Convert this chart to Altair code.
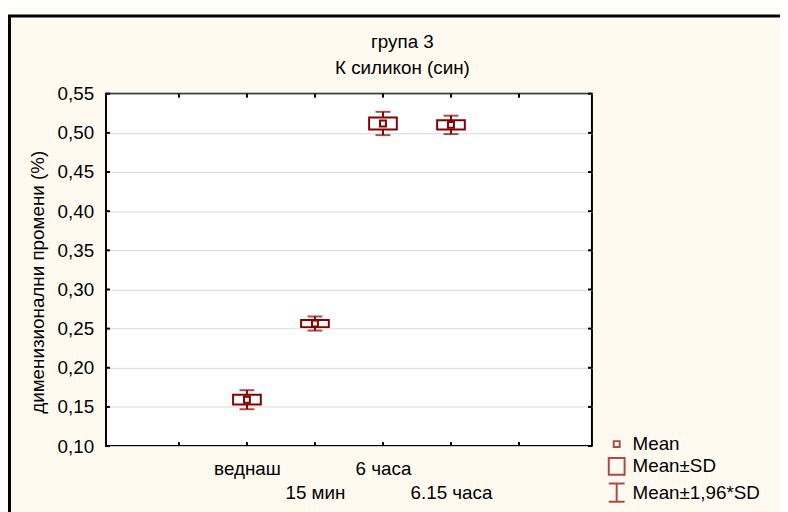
import altair as alt
import pandas as pd

# ---- data ----
categories = ["веднаш", "15 мин", "6 часа", "6.15 часа"]
positions = [2, 3, 4, 5]
means = [0.1592, 0.2565, 0.5120, 0.5102]
sds = [0.0062, 0.0046, 0.0076, 0.0060]
y_ticks = [0.10, 0.15, 0.20, 0.25, 0.30, 0.35, 0.40, 0.45, 0.50, 0.55]
x_ticks = [1, 2, 3, 4, 5, 6]
legend_labels = ["Mean", "Mean±SD", "Mean±1,96*SD"]
title_lines = ["група 3", "К силикон (син)"]
y_title = "дименизионални промени (%)"

W, H = 491, 356
RED = "#850000"
FONT = "Liberation Sans"
FS = 19

df = pd.DataFrame({"cat": categories, "pos": positions, "mean": means, "sd": sds})
yt_df = pd.DataFrame({"v": y_ticks})
xt_df = pd.DataFrame({"v": x_ticks})
leg_df = pd.DataFrame({"item": legend_labels})

xscale = alt.Scale(domain=[0, 7], nice=False, zero=False)
yscale = alt.Scale(domain=[0.10, 0.55], nice=False, zero=False)

x_label_expr = (
    "datum.value == 2 ? 'веднаш' : datum.value == 3 ? ['', '15 мин'] : "
    "datum.value == 4 ? '6 часа' : datum.value == 5 ? ['', '6.15 часа'] : ''"
)
xaxis = alt.Axis(values=x_ticks, ticks=False, domain=False, grid=False,
                 labelExpr=x_label_expr, labelOverlap=False, labelFlush=False,
                 labelPadding=14, labelLineHeight=23.5, labelFont=FONT,
                 labelFontSize=FS, labelColor="black", title=None)
yaxis = alt.Axis(values=y_ticks, ticks=False, domain=False, grid=True,
                 gridColor="#D9D9D9", gridWidth=1,
                 labelExpr="replace(format(datum.value, '.2f'), '.', ',')",
                 labelPadding=12.5, labelFont=FONT, labelFontSize=FS, labelColor="black",
                 title=y_title, titleFont=FONT, titleFontSize=FS, titleFontWeight="normal",
                 titleColor="black", titleAngle=270, titleX=-69, titleY=190,
                 titleAlign="center", titleBaseline="middle")


def X(field):
    return alt.X(field, type="quantitative", scale=xscale, axis=xaxis)


def Y(field):
    return alt.Y(field, type="quantitative", scale=yscale, axis=yaxis)


base = alt.Chart(df).transform_calculate(
    sd_lo="datum.mean - datum.sd",
    sd_hi="datum.mean + datum.sd",
    ci_lo="datum.mean - 1.96 * datum.sd",
    ci_hi="datum.mean + 1.96 * datum.sd",
)

one = alt.Data(values=[{"k": 1}])

strip = alt.Chart(one).mark_rect(fill="white", strokeWidth=0).encode(
    x=alt.value(-99), x2=alt.value(W + 190), y=alt.value(-84), y2=alt.value(-80))
frame = alt.Chart(one).mark_rect(fill="transparent", stroke="black", strokeWidth=3).encode(
    x=alt.value(-97.5), x2=alt.value(W + 200), y=alt.value(-78.5), y2=alt.value(H + 80))

whisk = base.mark_rule(color=RED, strokeWidth=2).encode(
    x=X("pos"), y=Y("ci_lo"), y2="ci_hi")
cap_lo = base.mark_tick(color=RED, orient="horizontal", size=15, thickness=2).encode(
    x=X("pos"), y=Y("ci_lo"))
cap_hi = base.mark_tick(color=RED, orient="horizontal", size=15, thickness=2).encode(
    x=X("pos"), y=Y("ci_hi"))
box = base.mark_bar(size=28, fill="white", stroke=RED, strokeWidth=2).encode(
    x=X("pos"), y=Y("sd_lo"), y2="sd_hi")
mean_pt = base.mark_square(size=36, fill="white", stroke=RED, strokeWidth=2, opacity=1).encode(
    x=X("pos"), y=Y("mean"))

tick_l = alt.Chart(yt_df).mark_rule(color="black", strokeWidth=2).encode(
    y=Y("v"), x=alt.value(0), x2=alt.value(4))
tick_r = alt.Chart(yt_df).mark_rule(color="black", strokeWidth=2).encode(
    y=Y("v"), x=alt.value(W - 4), x2=alt.value(W))
tick_t = alt.Chart(xt_df).mark_rule(color="black", strokeWidth=2).encode(
    x=X("v"), y=alt.value(0), y2=alt.value(4))
tick_b = alt.Chart(xt_df).mark_rule(color="black", strokeWidth=2).encode(
    x=X("v"), y=alt.value(H - 4), y2=alt.value(H))

shape_paths = [
    "M-0.3,-0.3H0.3V0.3H-0.3Z",
    "M-0.8,-0.85H0.8V0.85H-0.8Z",
    "M-0.8,-0.92H0.8M0,-0.92V0.92M-0.8,0.92H0.8",
]
legend_layer = alt.Chart(leg_df).transform_filter("false").mark_point(
    color=RED, filled=False, strokeWidth=2, size=400).encode(
    x=X("pos"), y=Y("mean"),
    shape=alt.Shape("item:N", scale=alt.Scale(domain=legend_labels, range=shape_paths),
                    legend=alt.Legend(orient="none", legendX=505, legendY=343, title=None,
                                      symbolSize=400, symbolStrokeWidth=2,
                                      symbolStrokeColor=RED, symbolFillColor="transparent",
                                      labelFont=FONT, labelFontSize=FS, labelColor="black",
                                      labelOffset=5, rowPadding=-0.5, padding=0)))

chart = alt.layer(
    strip, frame, whisk, cap_lo, cap_hi, box, mean_pt,
    tick_l, tick_r, tick_t, tick_b, legend_layer
).properties(
    width=W, height=H,
    title=alt.TitleParams(text=title_lines, font=FONT, fontSize=FS, fontWeight="normal",
                          color="black", anchor="middle", frame="group", dx=54,
                          offset=-68, lineHeight=26),
    autosize=alt.AutoSizeParams(type="none"),
    padding={"left": 99, "top": 84, "right": 190, "bottom": 64},
).configure(
    background="#FFFAEF",
).configure_view(
    stroke="black", strokeWidth=2, fill="white",
)

chart.save("out.html", embed_options={"renderer": "svg", "actions": False})
